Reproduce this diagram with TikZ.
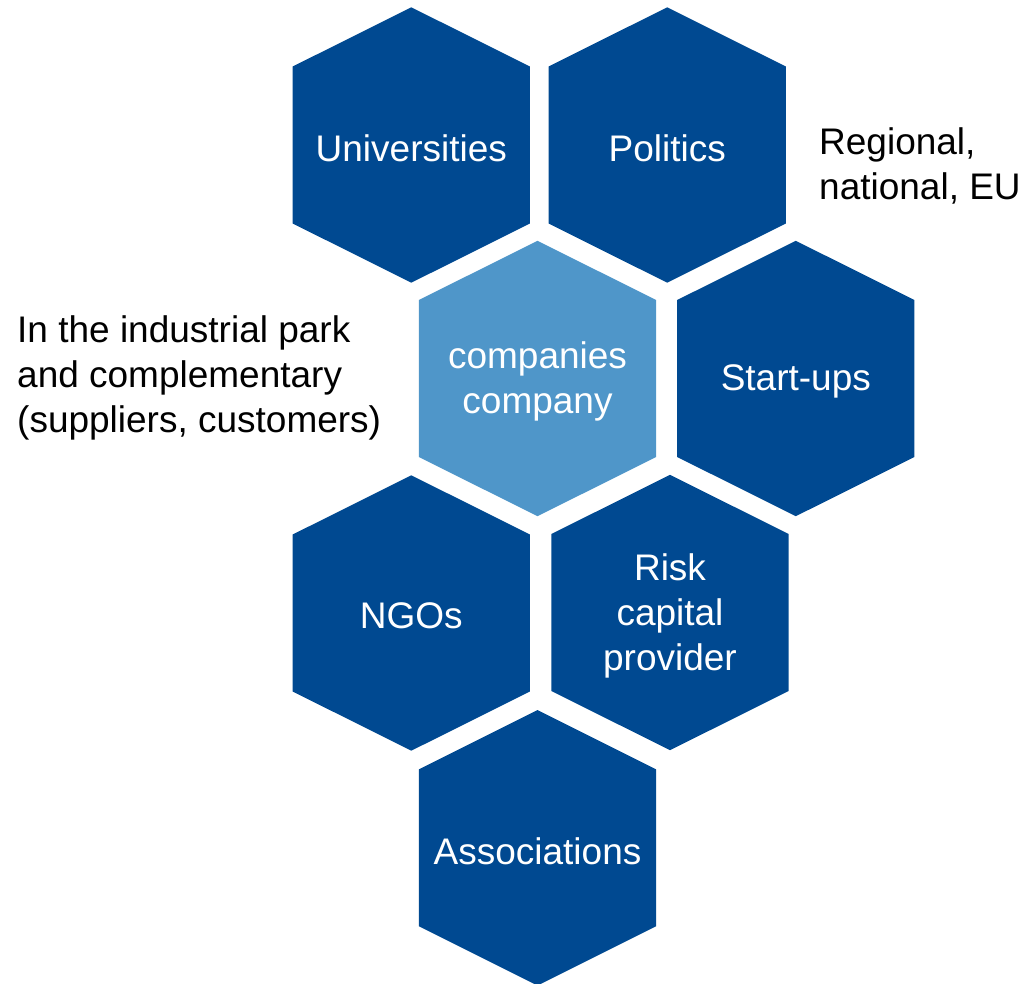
\documentclass[tikz,border=0pt]{standalone}
\usepackage{fontspec}
\setmainfont{Liberation Sans}
\definecolor{hexdark}{RGB}{0,73,145}
\definecolor{hexlight}{RGB}{79,150,201}
\newcommand{\hexcell}[5]{%
  \fill[#4] (#2,#3) ++(0,-137.7) -- ++(118.6,59.2) -- ++(0,157) -- ++(-118.6,59.2) -- ++(-118.6,-59.2) -- ++(0,-157) -- cycle;
  \node[hextext] (#1) at (#2,#3) {#5};
}
\begin{document}
\begin{tikzpicture}[x=1pt,y=-1pt,
  every node/.style={font=\fontsize{37}{45}\selectfont, inner sep=0pt},
  hextext/.style={text=white, align=center, yshift=-3pt},
  sidetext/.style={text=black, align=left, anchor=west}]
\useasboundingbox (0,0) rectangle (1025,983);
\hexcell{uni}{411.3}{145}{hexdark}{Universities}
\hexcell{pol}{667.2}{145}{hexdark}{Politics}
\hexcell{comp}{537.5}{378.5}{hexlight}{companies\\company}
\hexcell{start}{795.8}{378.5}{hexdark}{Start-ups}
\hexcell{ngo}{411.3}{613}{hexdark}{NGOs}
\hexcell{risk}{670}{612.5}{hexdark}{Risk\\capital\\provider}
\hexcell{assoc}{537.5}{847.8}{hexdark}{Associations}
\node[sidetext] (park) at (17,378) {In the industrial park\\and complementary\\(suppliers, customers)};
\node[sidetext] (reg) at (819,166) {Regional,\\national, EU};
\end{tikzpicture}
\end{document}
